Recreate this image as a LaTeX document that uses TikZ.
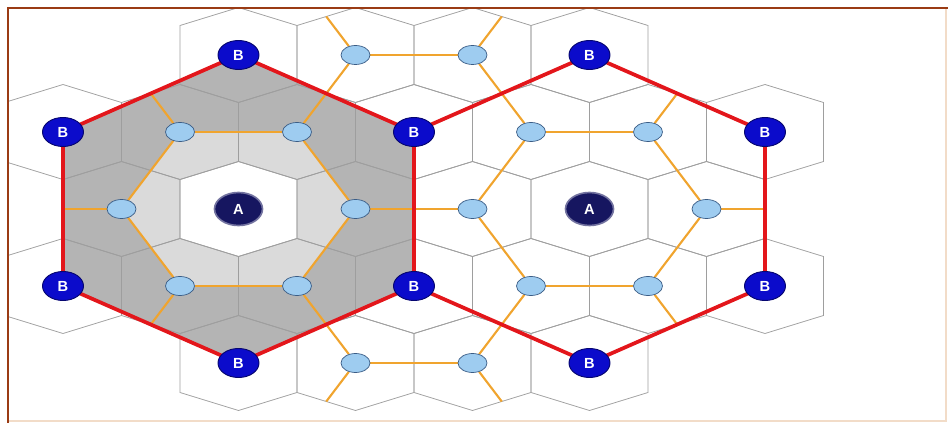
\documentclass[tikz,border=0pt]{standalone}
\usepackage{fontspec}
\setsansfont{Liberation Sans}
\usetikzlibrary{shapes.geometric,backgrounds}
\definecolor{framebrown}{HTML}{9A3B14}
\definecolor{framelight}{HTML}{F2DCC8}
\definecolor{cellline}{HTML}{9E9E9E}
\definecolor{tierdark}{HTML}{B4B4B4}
\definecolor{tierlight}{HTML}{DADADA}
\definecolor{linkred}{HTML}{E3161B}
\definecolor{linkorange}{HTML}{F0A42E}
\definecolor{basenavy}{HTML}{161660}
\definecolor{baseblue}{HTML}{0B0BCB}
\definecolor{userblue}{HTML}{9ECCF0}
\definecolor{useredge}{HTML}{3A5C85}
\tikzset{
  cell/.style    = {draw=cellline, line width=0.65pt},
  hexcell/.pic   = {\draw[cell] (-58.5,-29.5) -- (0,-47.5) -- (58.5,-29.5) -- (58.5,29.5) -- (0,47.5) -- (-58.5,29.5) -- cycle;},
  redlink/.style = {draw=linkred, line width=3.2pt},
  orlink/.style  = {draw=linkorange, line width=1.8pt},
  station/.style = {ellipse, inner sep=0pt, text=white, font=\sffamily\bfseries\fontsize{12.5}{12.5}\selectfont},
  siteA/.style   = {station, fill=basenavy, draw=basenavy!60, line width=1.4pt, minimum width=14.4mm, minimum height=9.9mm},
  siteB/.style   = {station, fill=baseblue, draw=baseblue!55!black, line width=0.8pt, minimum width=12.3mm, minimum height=8.7mm},
  user/.style    = {ellipse, inner sep=0pt, fill=userblue, draw=useredge, line width=0.6pt, minimum width=8.7mm, minimum height=5.7mm}
}

\begin{document}
\begin{tikzpicture}[x=0.3mm, y=-0.3mm]
  \useasboundingbox (0,0) rectangle (948,423);

  % serving cells
  \node[siteA] (aL) at (238.5,209) {A};
  \node[siteA] (aR) at (589.5,209) {A};

  % co-channel cells
  \node[siteB] (b1)  at (238.5,55)  {B};
  \node[siteB] (b2)  at (63,132)    {B};
  \node[siteB] (b3)  at (414,132)   {B};
  \node[siteB] (b4)  at (63,286)    {B};
  \node[siteB] (b5)  at (414,286)   {B};
  \node[siteB] (b6)  at (238.5,363) {B};
  \node[siteB] (b7)  at (589.5,55)  {B};
  \node[siteB] (b8)  at (765,132)   {B};
  \node[siteB] (b9)  at (765,286)   {B};
  \node[siteB] (b10) at (589.5,363) {B};

  % users
  \node[user] (u1)  at (180,132)   {};
  \node[user] (u2)  at (297,132)   {};
  \node[user] (u3)  at (355.5,209) {};
  \node[user] (u4)  at (297,286)   {};
  \node[user] (u5)  at (180,286)   {};
  \node[user] (u6)  at (121.5,209) {};
  \node[user] (u7)  at (531,132)   {};
  \node[user] (u8)  at (648,132)   {};
  \node[user] (u9)  at (706.5,209) {};
  \node[user] (u10) at (648,286)   {};
  \node[user] (u11) at (531,286)   {};
  \node[user] (u12) at (472.5,209) {};
  \node[user] (u13) at (355.5,55)  {};
  \node[user] (u14) at (472.5,55)  {};
  \node[user] (u15) at (355.5,363) {};
  \node[user] (u16) at (472.5,363) {};

  % ends of the half links
  \coordinate (s1)  at (150.75,93.5);
  \coordinate (s2)  at (63,209);
  \coordinate (s3)  at (150.75,324.5);
  \coordinate (s4)  at (326.25,16.5);
  \coordinate (s5)  at (501.75,16.5);
  \coordinate (s6)  at (326.25,401.5);
  \coordinate (s7)  at (501.75,401.5);
  \coordinate (s8)  at (677.25,93.5);
  \coordinate (s9)  at (765,209);
  \coordinate (s10) at (677.25,324.5);

  \begin{scope}[on background layer]
    \clip (9,9) rectangle (945,420);
    % shaded tiers round the left A
    \fill[tierdark] (b1.center) -- (b3.center) -- (b5.center) -- (b6.center) -- (b4.center) -- (b2.center) -- cycle;
    \fill[tierlight] (u1.center) -- (u2.center) -- (u3.center) -- (u4.center) -- (u5.center) -- (u6.center) -- cycle;
    \fill[white] (180,179.5) -- (238.5,161.5) -- (297,179.5) -- (297,238.5) -- (238.5,256.5) -- (180,238.5) -- cycle;

    % cell grid
    \foreach \cx in {238.5,355.5,472.5,589.5}
      \foreach \cy in {55,363}
        \pic at (\cx,\cy) {hexcell};
    \foreach \cx in {63,180,297,414,531,648,765}
      \foreach \cy in {132,286}
        \pic at (\cx,\cy) {hexcell};
    \foreach \cx in {121.5,238.5,355.5,472.5,589.5,706.5}
      \pic at (\cx,209) {hexcell};

    % interference links
    \foreach \p/\q in {u1/u2, u2/u3, u3/u4, u4/u5, u5/u6, u6/u1,
                       u7/u8, u8/u9, u9/u10, u10/u11, u11/u12, u12/u7,
                       u2/u13, u13/u14, u14/u7, u3/u12,
                       u4/u15, u15/u16, u16/u11,
                       u1/s1, u6/s2, u5/s3, u13/s4, u14/s5, u15/s6, u16/s7,
                       u8/s8, u9/s9, u10/s10}
      \draw[orlink] (\p) -- (\q);

    % reuse clusters
    \foreach \p/\q in {b1/b3, b3/b5, b5/b6, b6/b4, b4/b2, b2/b1,
                       b3/b7, b7/b8, b8/b9, b9/b10, b10/b5}
      \draw[redlink] (\p.center) -- (\q.center);
  \end{scope}

  % frame
  \draw[framelight, line width=1pt] (9,421) -- (946,421) -- (946,8);
  \draw[framebrown, line width=1.6pt] (948,8) -- (8,8);
  \draw[framebrown, line width=2.4pt] (8,7.5) -- (8,423);
\end{tikzpicture}
\end{document}
